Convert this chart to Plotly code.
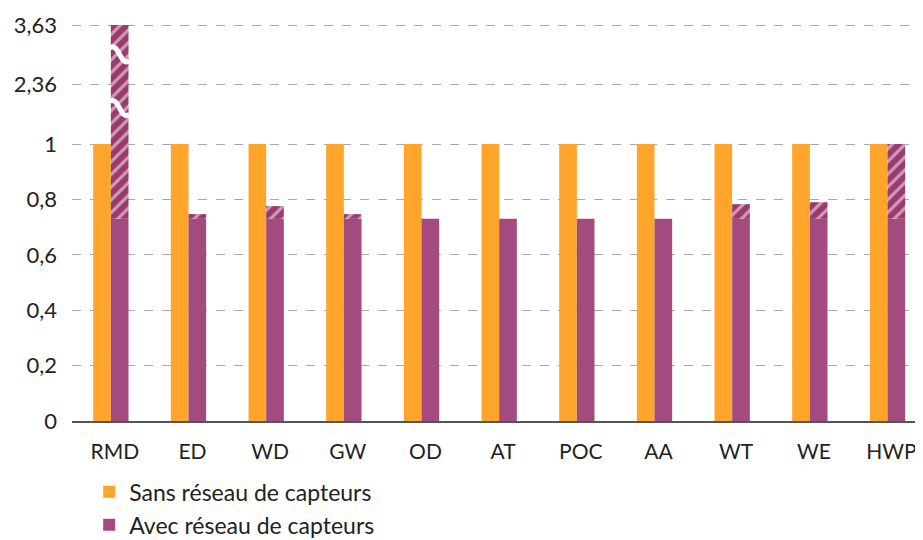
import plotly.graph_objects as go

categories = ["RMD", "ED", "WD", "GW", "OD", "AT", "POC", "AA", "WT", "WE", "HWP"]
sans_reseau = [1, 1, 1, 1, 1, 1, 1, 1, 1, 1, 1]
avec_reseau = [0.73, 0.73, 0.73, 0.73, 0.73, 0.73, 0.73, 0.73, 0.73, 0.73, 0.73]
avec_total = [3.63, 0.747, 0.776, 0.747, 0.73, 0.73, 0.73, 0.73, 0.783, 0.79, 1.0]

tick_values = [0, 0.2, 0.4, 0.6, 0.8, 1, 2.36, 3.63]
tick_labels = ["0", "0,2", "0,4", "0,6", "0,8", "1", "2,36", "3,63"]

# broken axis: above 1 the scale is compressed
break_real = [1, 2.36, 3.63]
break_axis = [1, 1.2166, 1.4296]


def to_axis(v):
    if v <= break_real[0]:
        return v
    for i in range(len(break_real) - 1):
        a, b = break_real[i], break_real[i + 1]
        if v <= b or i == len(break_real) - 2:
            t = (v - a) / (b - a)
            return break_axis[i] + t * (break_axis[i + 1] - break_axis[i])


x = list(range(len(categories)))
solid = [to_axis(v) for v in avec_reseau]
hatch = [to_axis(t) - s for t, s in zip(avec_total, solid)]

ORANGE = "#FFA52C"
PURPLE = "#A34B7E"
HATCH = "#9A3A6E"

fig = go.Figure()
fig.add_trace(go.Bar(
    x=x, y=sans_reseau, name="Sans réseau de capteurs",
    marker=dict(color=ORANGE, line=dict(width=0)), offsetgroup="a",
))
fig.add_trace(go.Bar(
    x=x, y=solid, name="Avec réseau de capteurs",
    marker=dict(color=PURPLE, line=dict(width=0)), offsetgroup="b",
))
fig.add_trace(go.Bar(
    x=x, y=hatch, base=solid, showlegend=False,
    marker=dict(color=HATCH, line=dict(width=0),
                pattern=dict(shape="/", fgcolor="white", bgcolor=HATCH,
                             size=9, solidity=0.35)),
    offsetgroup="b",
))

# break marks on the RMD bar
for yb in [1.322, 1.128]:
    fig.add_shape(
        type="path",
        path=f"M -0.01,{yb + 0.025} C 0.10,{yb + 0.05} 0.13,{yb - 0.05} 0.24,{yb - 0.02}",
        xref="x", yref="y", line=dict(color="white", width=5),
    )

fig.update_layout(
    width=923, height=540,
    margin=dict(l=64, r=0, t=2, b=127),
    paper_bgcolor="white", plot_bgcolor="white",
    barmode="group", bargap=0.545, bargroupgap=0,
    font=dict(family="Lato, 'Noto Sans', sans-serif", size=21, color="#222"),
    showlegend=True,
    legend=dict(orientation="v", x=0.02, y=-0.12, xanchor="left", yanchor="top",
                font=dict(size=23), itemwidth=30, tracegroupgap=0,
                bgcolor="rgba(0,0,0,0)"),
    xaxis=dict(
        range=[-0.5, 10.56], tickvals=x, ticktext=categories,
        tickfont=dict(size=21),
        showline=True, linecolor="#555", linewidth=1.5,
        showgrid=False, ticks="", ticklabelstandoff=11, ticklabelshift=4,
    ),
    yaxis=dict(
        range=[0, 1.484], tickvals=[to_axis(v) for v in tick_values],
        ticktext=tick_labels, tickfont=dict(size=22),
        showgrid=True, gridcolor="#AAAAAA",
        griddash="dash", gridwidth=1, zeroline=False, showline=False,
        ticks="", ticklabelstandoff=14,
    ),
)

fig.write_html("out.html")
